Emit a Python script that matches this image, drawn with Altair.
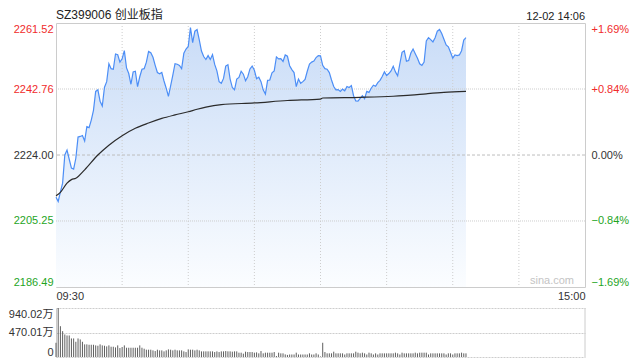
import altair as alt
import pandas as pd

TITLE = "SZ399006 创业板指"
STAMP = "12-02 14:06"
WATERMARK = "sina.com"
PREV_CLOSE = 2224.00
PRICE_TICKS = [2186.49, 2205.25, 2224.00, 2242.76, 2261.52]
PCT_TICKS = [-1.69, -0.84, 0.00, 0.84, 1.69]
VOL_TICKS = [0, 470.01, 940.02]
TIME_TICKS = [0, 240]
TIME_LABELS = ["09:30", "15:00"]
GRID_MINUTES = [30, 60, 90, 120, 150, 180, 210]

PRICE = [
    2212.0, 2210.8, 2213.5, 2216.0, 2224.0, 2225.39, 2222.80, 2220.30, 2220.02, 2223.08,
    2229.10, 2229.28, 2229.56, 2227.99, 2232.06, 2231.80, 2233.92, 2236.70, 2242.07, 2242.53,
    2239.29, 2237.90, 2243.27, 2244.85, 2249.94, 2248.55, 2248.37, 2252.72, 2252.50, 2250.40,
    2251.33, 2253.65, 2248.74, 2247.16, 2244.11, 2247.63, 2247.80, 2243.46, 2246.24, 2248.37,
    2248.55, 2250.40, 2253.46, 2253.09, 2251.79, 2249.48, 2247.44, 2247.07, 2247.44, 2245.03,
    2242.99, 2240.68, 2243.64, 2246.70, 2249.94, 2249.80, 2249.48, 2248.55, 2252.91, 2254.11,
    2254.85, 2260.22, 2255.96, 2259.20, 2259.67, 2256.70, 2253.55, 2251.98, 2251.15, 2252.26,
    2251.15, 2252.53, 2249.76, 2247.90, 2244.85, 2244.38, 2245.77, 2249.29, 2249.66, 2245.59,
    2243.18, 2242.53, 2245.59, 2246.05, 2247.81, 2246.98, 2245.12, 2246.24, 2248.46, 2249.29,
    2248.09, 2245.68, 2246.14, 2244.85, 2242.53, 2241.33, 2245.22, 2245.31, 2247.35, 2247.90,
    2251.89, 2251.33, 2251.40, 2250.59, 2252.44, 2252.07, 2249.39, 2248.27, 2247.44, 2243.46,
    2245.59, 2244.38, 2244.85, 2245.50, 2247.81, 2249.85, 2250.40, 2250.68, 2251.70, 2252.26,
    2252.20, 2249.48, 2248.55, 2248.37, 2247.44, 2245.31, 2243.46, 2242.53, 2242.60, 2242.07,
    2242.72, 2242.25, 2243.46, 2243.18, 2243.74, 2240.86, 2239.38, 2239.30, 2240.12, 2240.86,
    2240.03, 2242.07, 2241.79, 2242.99, 2243.83, 2243.55, 2244.57, 2245.22, 2246.33, 2247.63,
    2246.61, 2247.16, 2247.90, 2249.20, 2247.63, 2246.51, 2249.94, 2253.18, 2253.65, 2250.68,
    2250.87, 2253.00, 2254.11, 2252.81, 2251.52, 2249.94, 2249.48, 2250.40, 2256.43, 2257.35,
    2256.80, 2256.15, 2257.35, 2259.20, 2259.67, 2258.56, 2256.89, 2255.31, 2254.76, 2253.18,
    2251.52, 2252.44, 2252.26, 2252.44, 2253.65, 2256.70, 2257.35,
]

VOLUME = [
    273, 940.02, 591, 496, 432, 413, 413, 356, 356, 292,
    356, 337, 292, 242, 242, 235, 235, 235, 223, 216,
    242, 223, 216, 203, 223, 197, 197, 184, 223, 172,
    191, 223, 178, 178, 178, 178, 178, 178, 223, 178,
    159, 140, 140, 140, 127, 114, 140, 127, 127, 108,
    127, 146, 140, 127, 140, 127, 127, 127, 108, 95,
    146, 140, 140, 127, 140, 127, 108, 108, 108, 108,
    108, 108, 95, 108, 95, 108, 108, 114, 108, 108,
    102, 108, 108, 83, 83, 64, 102, 95, 95, 95,
    83, 89, 70, 114, 70, 83, 83, 83, 83, 95,
    19, 83, 70, 70, 50, 40, 48, 48, 48, 83,
    48, 48, 48, 48, 48, 70, 48, 48, 70, 48,
    10, 273, 95, 70, 70, 70, 102, 70, 70, 70,
    70, 48, 70, 70, 70, 70, 102, 83, 70, 83,
    70, 48, 83, 70, 48, 70, 48, 70, 70, 70,
    70, 70, 70, 70, 83, 70, 48, 83, 70, 70,
    70, 70, 70, 83, 70, 83, 83, 83, 83, 48,
    70, 70, 70, 70, 70, 70, 70, 48, 70, 70,
    48, 70, 70, 70, 83, 70, 70,
]

AVG_MIN = [0, 2, 5, 7, 9, 13, 19, 24, 30, 36, 42, 48, 54, 60, 64, 68, 75,
           90, 105, 120, 121, 138, 153, 161, 168, 176, 186]
AVG_VAL = [2212.4, 2213.4, 2216.0, 2217.0, 2217.4, 2219.8, 2224.0, 2226.8, 2229.5,
           2231.6, 2233.1, 2234.4, 2235.4, 2236.3, 2237.0, 2237.6, 2238.3,
           2238.8, 2239.5, 2239.9, 2240.2, 2240.4, 2240.7, 2241.0, 2241.4, 2241.8, 2242.1]

W, H1, H2 = 529, 264, 49
FONT = "Liberation Sans, Arial, Noto Sans CJK SC, sans-serif"
RED, GREEN, BLACK = "#f02b2b", "#1fa51f", "#333333"
GRID = "#cdcdcd"

price_df = pd.DataFrame({"minute": list(range(len(PRICE))), "price": PRICE})
vol_df = pd.DataFrame({"minute": list(range(len(VOLUME))), "vol": VOLUME})
avg_df = pd.DataFrame({"minute": AVG_MIN, "avg": AVG_VAL})
ptick_df = pd.DataFrame({"v": PRICE_TICKS})
pct_df = pd.DataFrame({"p": PCT_TICKS})
vgrid_df = pd.DataFrame({"m": GRID_MINUTES})

xscale = alt.Scale(domain=[TIME_TICKS[0], TIME_TICKS[-1]], nice=False, zero=False)
yscale = alt.Scale(domain=[PRICE_TICKS[0], PRICE_TICKS[-1]], nice=False, zero=False)
pscale = alt.Scale(domain=[PCT_TICKS[0], PCT_TICKS[-1]], nice=False, zero=False)
vscale = alt.Scale(domain=[VOL_TICKS[0], VOL_TICKS[-1]], nice=False, zero=True)

x_axis = alt.Axis(
    values=TIME_TICKS,
    labelExpr=f"datum.value == {TIME_TICKS[0]} ? '{TIME_LABELS[0]}' : '{TIME_LABELS[1]}'",
    labelFlush=True, grid=False, ticks=False, domain=False, title=None,
    labelFontSize=11, labelColor=BLACK, labelPadding=3, labelFont=FONT,
)
left_axis = alt.Axis(
    values=PRICE_TICKS, format=".2f", labelFlush=True, grid=False, ticks=False,
    domain=False, title=None, labelFontSize=11, labelPadding=3, labelFont=FONT,
    labelColor={"condition": [
        {"test": f"datum.value > {PREV_CLOSE}", "value": RED},
        {"test": f"datum.value < {PREV_CLOSE}", "value": GREEN}],
        "value": BLACK},
)
right_axis = alt.Axis(
    orient="right", values=PCT_TICKS,
    labelExpr="(datum.value > 0 ? '+' : '') + format(datum.value, '.2f') + '%'",
    labelFlush=True, grid=False, ticks=False, domain=False, title=None,
    labelFontSize=11, labelPadding=6, labelFont=FONT,
    labelColor={"condition": [
        {"test": "datum.value > 0", "value": RED},
        {"test": "datum.value < 0", "value": GREEN}],
        "value": BLACK},
)

X = alt.X("minute:Q", scale=xscale, axis=x_axis)

fill = alt.Gradient(
    gradient="linear",
    stops=[alt.GradientStop(color="#c9dcf7", offset=0),
           alt.GradientStop(color="#fbfdff", offset=1)],
    x1=1, x2=1, y1=0, y2=1,
)

area = alt.Chart(price_df).mark_area(color=fill).encode(
    x=X, y=alt.Y("price:Q", scale=yscale, axis=left_axis),
    y2=alt.datum(PRICE_TICKS[0]),
)
hgrid = alt.Chart(ptick_df).transform_filter(
    f"datum.v != {PREV_CLOSE} && datum.v > {PRICE_TICKS[0]} && datum.v < {PRICE_TICKS[-1]}"
).mark_rule(color=GRID, strokeDash=[1, 1], strokeWidth=1).encode(
    y=alt.Y("v:Q", scale=yscale, axis=left_axis))
hmid = alt.Chart(ptick_df).transform_filter(f"datum.v == {PREV_CLOSE}").mark_rule(
    color="#bdbdbd", strokeDash=[3, 2], strokeWidth=1).encode(
    y=alt.Y("v:Q", scale=yscale, axis=left_axis))
vgrid = alt.Chart(vgrid_df).mark_rule(color=GRID, strokeDash=[1, 2], strokeWidth=1).encode(
    x=alt.X("m:Q", scale=xscale, axis=x_axis))
line = alt.Chart(price_df).mark_line(color="#4c8ef6", strokeWidth=1.2).encode(
    x=X, y=alt.Y("price:Q", scale=yscale, axis=left_axis))
avg = alt.Chart(avg_df).mark_line(color="#2b2b2b", strokeWidth=1.2, interpolate="monotone").encode(
    x=alt.X("minute:Q", scale=xscale, axis=x_axis),
    y=alt.Y("avg:Q", scale=yscale, axis=left_axis))
wm = alt.Chart(pd.DataFrame({"t": [WATERMARK]})).mark_text(
    align="right", baseline="bottom", fontSize=11, color="#c4c4c4", font=FONT).encode(
    text="t:N", x=alt.value(W - 11), y=alt.value(H1 - 1))
title = alt.Chart(pd.DataFrame({"t": [TITLE]})).mark_text(
    align="left", baseline="bottom", fontSize=12, color="#222222", font=FONT).encode(
    text="t:N", x=alt.value(0), y=alt.value(-1))
stamp = alt.Chart(pd.DataFrame({"t": [STAMP]})).mark_text(
    align="right", baseline="bottom", fontSize=11, color="#222222", font=FONT).encode(
    text="t:N", x=alt.value(W), y=alt.value(-1))

price_group = alt.layer(area, hgrid, hmid, vgrid, line, avg, wm, title, stamp)
pct_layer = alt.Chart(pct_df).mark_rule(strokeOpacity=0).encode(
    y=alt.Y("p:Q", scale=pscale, axis=right_axis))

top = alt.layer(price_group, pct_layer).resolve_scale(y="independent").properties(
    width=W, height=H1, view=alt.ViewBackground(stroke="#cccccc", strokeWidth=1))

vol_axis = alt.Axis(
    values=VOL_TICKS,
    labelExpr="datum.value == 0 ? '0' : format(datum.value, '.2f') + '万'",
    labelFlush=True, ticks=False, domain=True, domainColor="#cccccc", title=None,
    grid=True, gridColor=GRID, gridDash=[2, 1], labelFontSize=11, labelPadding=3,
    labelColor=BLACK, labelFont=FONT,
)
bars = alt.Chart(vol_df).mark_rule(color="#5f5f5f", strokeWidth=1).encode(
    x=alt.X("minute:Q", scale=xscale, axis=None),
    y=alt.Y("vol:Q", scale=vscale, axis=vol_axis),
    y2=alt.datum(0),
)
rborder = alt.Chart(pd.DataFrame({"m": [TIME_TICKS[-1]]})).mark_rule(
    color="#cccccc", strokeWidth=1).encode(x=alt.X("m:Q", scale=xscale, axis=None))
bottom = alt.layer(bars, rborder).properties(
    width=W, height=H2, view=alt.ViewBackground(stroke=None))

chart = alt.vconcat(top, bottom, spacing=21, bounds="flush").properties(
    padding={"left": 0, "top": 0, "right": 0, "bottom": 0}
).configure(font=FONT)

chart.save("out.html", embed_options={"renderer": "svg", "actions": False})
